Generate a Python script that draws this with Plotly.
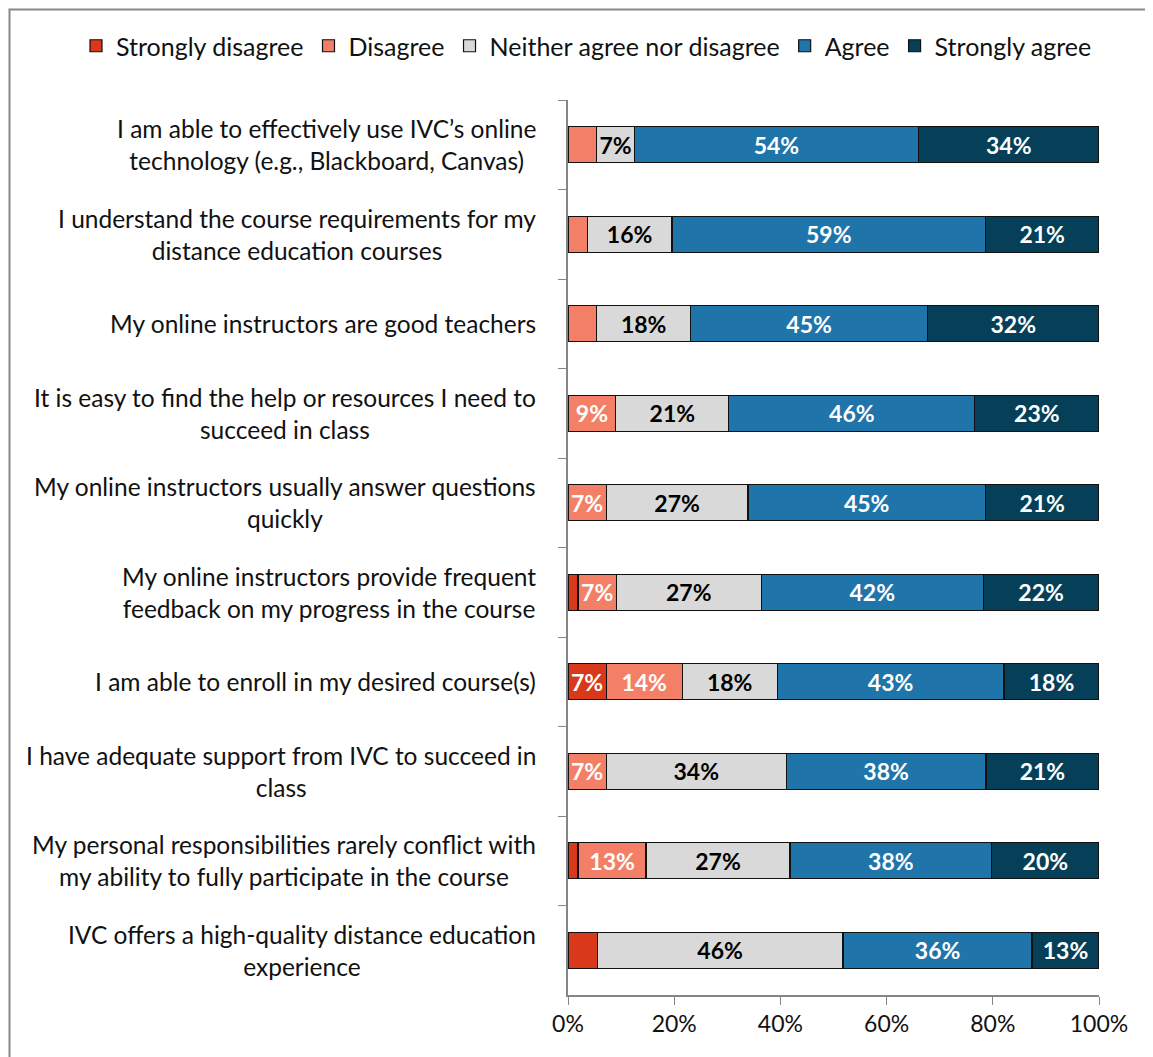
import plotly.graph_objects as go

# Survey statements (top to bottom)
statements = [
    "I am able to effectively use IVC’s online<br>technology (e.g., Blackboard, Canvas)",
    "I understand the course requirements for my<br>distance education courses",
    "My online instructors are good teachers",
    "It is easy to find the help or resources I need to<br>succeed in class",
    "My online instructors usually answer questions<br>quickly",
    "My online instructors provide frequent<br>feedback on my progress in the course",
    "I am able to enroll in my desired course(s)",
    "I have adequate support from IVC to succeed in<br>class",
    "My personal responsibilities rarely conflict with<br>my ability to fully participate in the course",
    "IVC offers a high-quality distance education<br>experience",
]

# Percent of respondents per response
strongly_disagree = [0, 0, 0, 0, 0, 1.9, 7.2, 0, 1.9, 5.5]
disagree = [5.4, 3.6, 5.4, 9.0, 7.2, 7.2, 14.3, 7.2, 12.8, 0]
neither = [7.1, 16.0, 17.7, 21.3, 26.7, 27.3, 17.9, 33.9, 27.1, 46.3]
agree = [53.5, 59.0, 44.6, 46.3, 44.7, 41.8, 42.7, 37.6, 38.0, 35.6]
strongly_agree = [34.0, 21.4, 32.3, 23.4, 21.4, 21.8, 17.9, 21.3, 20.2, 12.6]

x_ticks = [0, 20, 40, 60, 80, 100]

series = [
    ("Strongly disagree", strongly_disagree, "#D9381A", "white"),
    ("Disagree", disagree, "#F37F66", "white"),
    ("Neither agree nor disagree", neither, "#D9D9D9", "black"),
    ("Agree", agree, "#1F74AA", "white"),
    ("Strongly agree", strongly_agree, "#053F58", "white"),
]

font_family = "Lato, 'Open Sans', sans-serif"

fig = go.Figure()
for name, vals, color, txt_color in series:
    labels = [f"{round(v)}%" if v >= 6.5 else "" for v in vals]
    fig.add_trace(go.Bar(
        name=name,
        y=statements,
        x=vals,
        orientation="h",
        marker=dict(color=color, line=dict(color="#111111", width=1.2)),
        text=labels,
        textposition="inside",
        insidetextanchor="middle",
        textangle=0,
        constraintext="none",
        insidetextfont=dict(family=font_family, size=23, color=txt_color, weight="bold"),
        hoverinfo="x+name",
    ))

# Category labels centred line-by-line, right-aligned as a block
for s in statements:
    fig.add_annotation(
        x=0, xref="paper", y=s, yref="y",
        text=s, showarrow=False,
        xanchor="right", yanchor="middle", align="center",
        xshift=-30,
        font=dict(family=font_family, size=24.5, color="#111111"),
    )

# page body adds 8px offset, margins account for it
W, H = 1153, 1057
ml, mr, mt, mb = 560, 62, 92, 70
pw, ph = W - ml - mr, H - mt - mb

# Outer chart border (left and top visible)
fig.add_shape(
    type="rect", xref="paper", yref="paper",
    x0=(1.5 - ml) / pw, x1=1.3,
    y0=-0.3, y1=(H - mb - 1.5) / ph,
    line=dict(color="#888888", width=2),
)

fig.update_layout(
    width=W, height=H,
    margin=dict(l=ml, r=mr, t=mt, b=mb),
    paper_bgcolor="white",
    plot_bgcolor="white",
    barmode="stack",
    bargap=0.6,
    font=dict(family=font_family, size=24, color="#111111"),
    legend=dict(
        orientation="h",
        x=(68 - ml) / pw, xanchor="left",
        y=(H - mb - 38) / ph, yanchor="middle",
        font=dict(size=25),
        itemwidth=30,
        traceorder="normal",
    ),
    xaxis=dict(
        range=[0, 100],
        tickvals=x_ticks,
        ticktext=[f"{t}%" for t in x_ticks],
        showgrid=False,
        zeroline=False,
        showline=True,
        linecolor="#868686",
        linewidth=1.5,
        ticks="outside",
        ticklen=8,
        tickcolor="#868686",
        tickfont=dict(size=23),
    ),
    yaxis=dict(
        categoryorder="array",
        categoryarray=statements,
        autorange="reversed",
        showticklabels=False,
        showgrid=False,
        showline=True,
        linecolor="#868686",
        linewidth=1.5,
        ticks="outside",
        tickson="boundaries",
        ticklen=8,
        tickcolor="#868686",
    ),
)

fig.write_html("out.html")
